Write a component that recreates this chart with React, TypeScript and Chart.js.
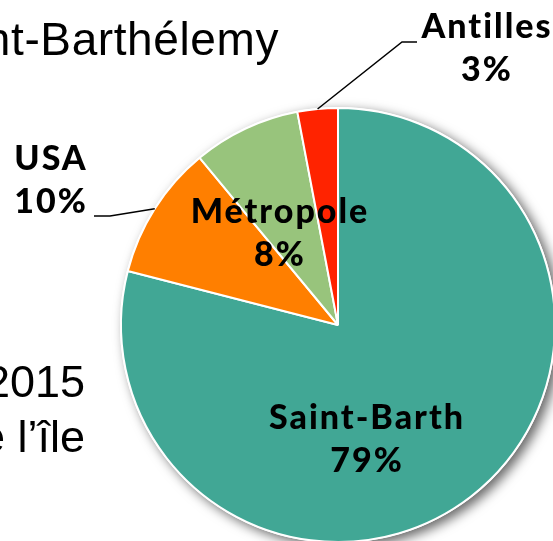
import React, { useEffect, useRef } from "react";
import { Chart, registerables } from "chart.js";

Chart.register(...registerables);

// ---- data ----
const categories = ["Saint-Barth", "USA", "Métropole", "Antilles"];
const shares = [79, 10, 8, 3];
const percentLabels = ["79%", "10%", "8%", "3%"];
const sliceColors = ["#41A795", "#FF7F00", "#98C47C", "#FF2300"];
const backgroundTitle = "Saint-Barthélemy";
const backgroundLines = ["2015", "de l’île"];

// ---- layout (text placement only) ----
const labelLayout = [
  { x: 367, y: 429, leader: null as null | number[][] },
  { x: 51, y: 170, leader: [[94, 216], [110, 216]] },
  { x: 280, y: 223, leader: null as null | number[][] },
  { x: 487, y: 38, leader: [[417, 42], [402, 42]] },
];

const W = 676;
const H = 650;

export default function App() {
  const ref = useRef<HTMLCanvasElement | null>(null);

  useEffect(() => {
    if (!ref.current) return;

    const backgroundText = {
      id: "backgroundText",
      beforeDraw(chart: any) {
        const ctx = chart.ctx;
        ctx.save();
        ctx.fillStyle = "#000";
        ctx.textBaseline = "alphabetic";
        ctx.textAlign = "right";
        ctx.font = '46px "Liberation Sans", Arial, sans-serif';
        (ctx as any).letterSpacing = "0.6px";
        ctx.fillText(backgroundTitle, 279, 55);
        (ctx as any).letterSpacing = "0px";
        ctx.font = '45px "Liberation Sans", Arial, sans-serif';
        ctx.fillText(backgroundLines[0], 85, 397);
        ctx.fillText(backgroundLines[1], 85, 452);
        ctx.restore();
      },
    };

    const pieShadow = {
      id: "pieShadow",
      beforeDatasetsDraw(chart: any) {
        const arc = chart.getDatasetMeta(0).data[0];
        if (!arc) return;
        const ctx = chart.ctx;
        ctx.save();
        ctx.shadowColor = "rgba(0,0,0,0.6)";
        ctx.shadowBlur = 12;
        ctx.shadowOffsetX = 5;
        ctx.shadowOffsetY = 4;
        ctx.fillStyle = "#ffffff";
        ctx.beginPath();
        ctx.arc(arc.x, arc.y, arc.outerRadius + 1, 0, Math.PI * 2);
        ctx.fill();
        ctx.restore();
      },
    };

    const sliceLabels = {
      id: "sliceLabels",
      afterDatasetsDraw(chart: any) {
        const ctx = chart.ctx;
        const arcs = chart.getDatasetMeta(0).data;
        ctx.save();
        ctx.fillStyle = "#000";
        ctx.strokeStyle = "#000";
        ctx.lineWidth = 1.5;
        ctx.textAlign = "center";
        ctx.textBaseline = "alphabetic";
        ctx.font = '900 34px Lato, "DejaVu Sans", sans-serif';
        (ctx as any).letterSpacing = "2px";
        categories.forEach((name, i) => {
          const lay = labelLayout[i];
          const a = arcs[i];
          if (lay.leader && a) {
            const mid = (a.startAngle + a.endAngle) / 2;
            const ex = a.x + Math.cos(mid) * a.outerRadius;
            const ey = a.y + Math.sin(mid) * a.outerRadius;
            ctx.beginPath();
            ctx.moveTo(lay.leader[0][0], lay.leader[0][1]);
            for (let k = 1; k < lay.leader.length; k++) ctx.lineTo(lay.leader[k][0], lay.leader[k][1]);
            ctx.lineTo(ex, ey);
            ctx.stroke();
          }
          ctx.fillText(name, lay.x, lay.y);
          ctx.fillText(percentLabels[i], lay.x, lay.y + 43);
        });
        ctx.restore();
      },
    };

    const chart = new Chart(ref.current, {
      type: "pie",
      data: {
        labels: categories,
        datasets: [
          {
            data: shares,
            backgroundColor: sliceColors,
            borderColor: "#ffffff",
            borderWidth: 2,
            hoverOffset: 0,
          },
        ],
      },
      options: {
        responsive: false,
        animation: false,
        events: [],
        layout: { padding: { left: 120, right: 120, top: 107, bottom: 107 } },
        plugins: {
          legend: { display: false },
          tooltip: { enabled: false },
        },
      },
      plugins: [backgroundText, pieShadow, sliceLabels],
    });
    return () => chart.destroy();
  }, []);

  return (
    <div
      style={{
        position: "fixed",
        left: 0,
        top: 0,
        width: 553,
        height: 541,
        overflow: "hidden",
        background: "#ffffff",
      }}
    >
      <canvas ref={ref} width={W} height={H} style={{ display: "block", width: W, height: H }} />
    </div>
  );
}
